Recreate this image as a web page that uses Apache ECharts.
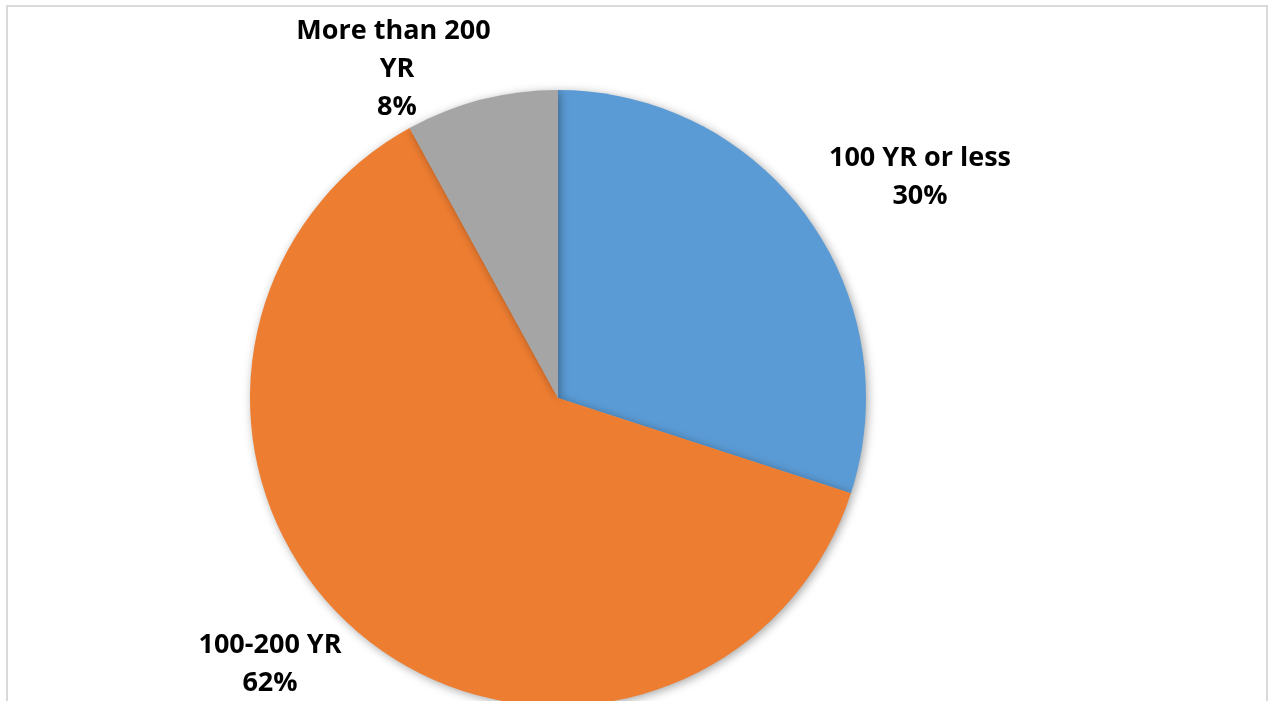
<!DOCTYPE html>
<html>
<head>
<meta charset="utf-8">
<script src="https://cdn.jsdelivr.net/npm/echarts@6/dist/echarts.min.js"></script>
<style>
html,body{margin:0;padding:0;background:#fff;}
#chart{width:1269px;height:701px;}
</style>
</head>
<body>
<div id="chart"></div>
<script>
var categories = ['100 YR or less', '100-200 YR', 'More than 200 YR'];
var values = [30, 62, 8];
var colors = ['#5B9BD5', '#ED7D31', '#A5A5A5'];

var labelSpots = [
  {x: 920, y: 177},
  {x: 270, y: 664},
  {x: 397, y: 69}
];

var chart = echarts.init(document.getElementById('chart'));
chart.setOption({
  animation: false,
  backgroundColor: '#ffffff',
  graphic: [{
    type: 'rect',
    shape: {x: 7, y: 6, width: 1260, height: 720},
    style: {fill: 'none', stroke: '#d9d9d9', lineWidth: 2},
    silent: true
  }],
  series: [{
    type: 'pie',
    center: [558, 398],
    radius: [0, 308],
    startAngle: 90,
    clockwise: true,
    data: categories.map(function (c, i) {
      return {name: c, value: values[i], itemStyle: {color: colors[i]}};
    }),
    itemStyle: {
      borderWidth: 0,
      shadowBlur: 10,
      shadowColor: 'rgba(0,0,0,0.35)',
      shadowOffsetX: 2,
      shadowOffsetY: 2
    },
    label: {
      show: true,
      position: 'outside',
      formatter: function (p) { return p.name + '\n' + Math.round(p.percent) + '%'; },
      fontFamily: 'Open Sans',
      fontWeight: 'bold',
      fontSize: 27,
      lineHeight: 38,
      color: '#000000',
      width: 225,
      overflow: 'break',
      align: 'center'
    },
    labelLine: {show: false},
    labelLayout: function (params) {
      var s = labelSpots[params.dataIndex];
      return {x: s.x, y: s.y, align: 'center', verticalAlign: 'middle'};
    }
  }]
});
</script>
</body>
</html>
